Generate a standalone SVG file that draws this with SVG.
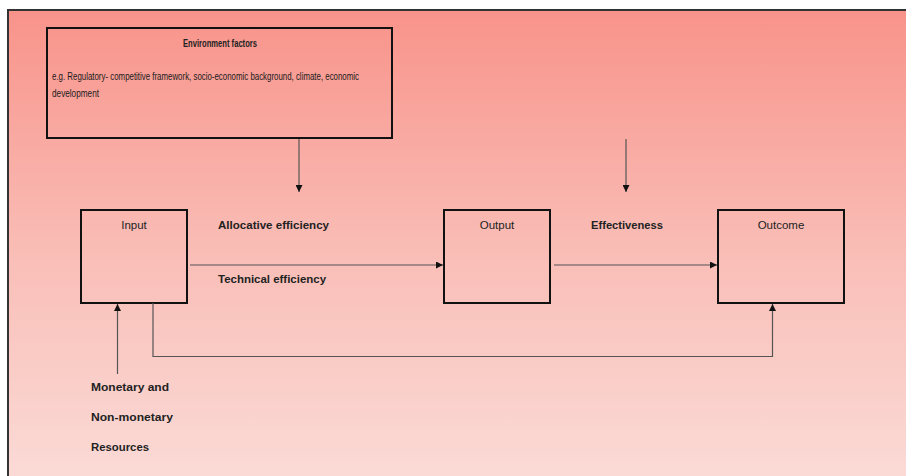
<svg xmlns="http://www.w3.org/2000/svg" width="906" height="476" viewBox="0 0 906 476">
  <defs>
    <linearGradient id="bg" x1="0" y1="0" x2="0" y2="1">
      <stop offset="0" stop-color="#f8938a"/>
      <stop offset="0.5" stop-color="#f9bdb6"/>
      <stop offset="1" stop-color="#fbdcd8"/>
    </linearGradient>
    <marker id="arr" viewBox="0 0 8 8" refX="8" refY="4" markerWidth="7" markerHeight="7" markerUnits="userSpaceOnUse" orient="auto">
      <path d="M0,0 L8,4 L0,8 Z" fill="#111"/>
    </marker>
    <style>
      .box { fill: none; stroke: #111; stroke-width: 2; }
      .conn { fill: none; stroke: #555; stroke-width: 1.2; }
      .title { font-family: "Liberation Sans", Arial, sans-serif; font-size: 11.5px; fill: #222; }
      .lbl { font-family: "Liberation Sans", Arial, sans-serif; font-size: 10px; font-weight: bold; fill: #222; }
      .body { font-family: "Liberation Sans", Arial, sans-serif; font-size: 11px; fill: #1a1a1a; }
    </style>
  </defs>

  <rect x="0" y="0" width="906" height="476" fill="#ffffff"/>
  <rect x="8" y="10" width="910" height="480" fill="url(#bg)" stroke="#333" stroke-width="2"/>

  <g id="environment">
    <rect class="box" x="47" y="28" width="345" height="110"/>
    <text class="lbl" x="220" y="47" text-anchor="middle" textLength="74" lengthAdjust="spacingAndGlyphs">Environment factors</text>
    <text class="body" x="52" y="79.5" textLength="307" lengthAdjust="spacingAndGlyphs">e.g. Regulatory- competitive framework, socio-economic background, climate, economic</text>
    <text class="body" x="52" y="96.5" textLength="47" lengthAdjust="spacingAndGlyphs">development</text>
  </g>

  <g id="input">
    <rect class="box" x="81" y="210" width="106" height="93"/>
    <text class="title" x="134" y="229" text-anchor="middle">Input</text>
  </g>

  <g id="output">
    <rect class="box" x="444" y="210" width="106" height="93"/>
    <text class="title" x="497" y="229" text-anchor="middle">Output</text>
  </g>

  <g id="outcome">
    <rect class="box" x="718" y="210" width="126" height="93"/>
    <text class="title" x="781" y="229" text-anchor="middle">Outcome</text>
  </g>

  <g id="resources">
    <text class="lbl" x="91" y="391" textLength="78" lengthAdjust="spacingAndGlyphs">Monetary and</text>
    <text class="lbl" x="91" y="421" textLength="82" lengthAdjust="spacingAndGlyphs">Non-monetary</text>
    <text class="lbl" x="91" y="451" textLength="58" lengthAdjust="spacingAndGlyphs">Resources</text>
  </g>

  <g id="connectors">
    <line class="conn" x1="299" y1="139" x2="299" y2="192" marker-end="url(#arr)"/>
    <line class="conn" x1="626" y1="139" x2="626" y2="192" marker-end="url(#arr)"/>
    <line class="conn" x1="190" y1="265" x2="443" y2="265" marker-end="url(#arr)"/>
    <line class="conn" x1="554" y1="265" x2="717" y2="265" marker-end="url(#arr)"/>
    <path class="conn" d="M153,303 L153,356.5 L772.5,356.5 L772.5,304" marker-end="url(#arr)"/>
    <line class="conn" x1="117.5" y1="374" x2="117.5" y2="304" marker-end="url(#arr)"/>
    <text class="lbl" x="218" y="229" textLength="111" lengthAdjust="spacingAndGlyphs">Allocative efficiency</text>
    <text class="lbl" x="218" y="283" textLength="108" lengthAdjust="spacingAndGlyphs">Technical efficiency</text>
    <text class="lbl" x="591" y="229" textLength="72" lengthAdjust="spacingAndGlyphs">Effectiveness</text>
  </g>
</svg>
